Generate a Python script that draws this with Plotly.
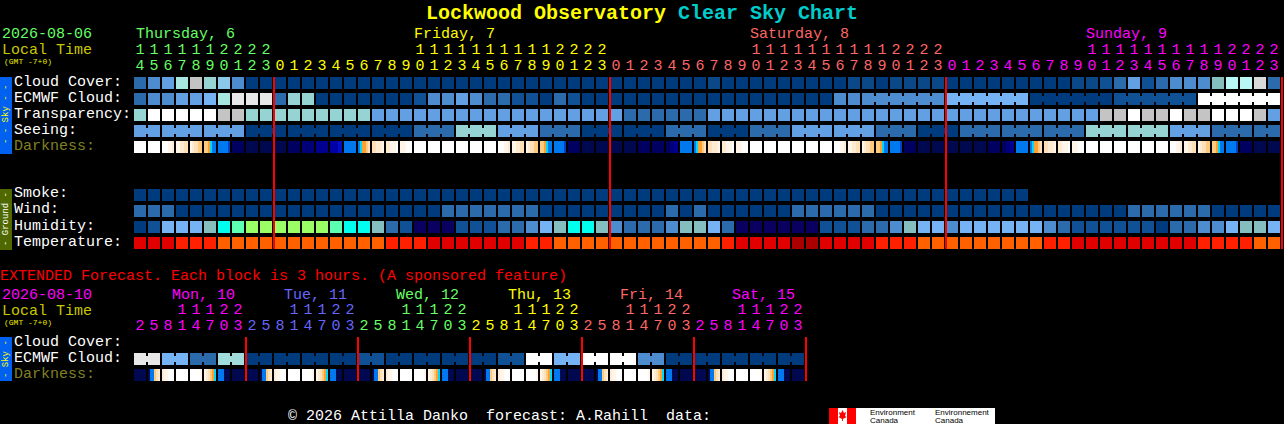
import plotly.graph_objects as go

W, H = 1284, 424

# colour levels used by the rows below (index = level)
palette = ["#003C7D", "#0F5194", "#2B6AAB", "#4E8CD0", "#62A0E3", "#75B3F4", "#84BEBE", "#96D4D4",
           "#B9F6F6", "#C4C4C4", "#E8E8E8", "#FFFFFF", "#00FFEE", "#5CFFB2", "#9AFF66", "#0A0060",
           "#E00000", "#FF2000", "#FF6000", "#AA0000", "#A8E6E0", "#A0DCDC", "#8CC8EA", "#0A4888",
           "#D8D8D8"]
dark_colors = {"W": "#FFFFFF", "a": "#FFF5E8", "b": "#FFEBD2", "c": "#FFE0B8", "d": "#FFCB80",
               "e": "#FFA030", "f": "#00D8FF", "g": "#0078F0", "h": "#0040C8", "0": "#000850",
               "1": "#000060", "2": "#000078", "3": "#000090", "4": "#0000A8", "5": "#0010C0"}
palette = palette + list(dark_colors.values())
dark_index = {k: 25 + i for i, k in enumerate(dark_colors)}

# ---- 82 hourly blocks, starting Thursday 14h
hours = [14, 15, 16, 17, 18, 19, 20, 21, 22, 23] + list(range(24)) * 3
cell_day = ["Thu"] * 10 + ["Fri"] * 24 + ["Sat"] * 24 + ["Sun"] * 24
day_color = {"Thu": "#66FF66", "Fri": "#FFFF00", "Sat": "#FF6666", "Sun": "#FF00FF"}
day_labels = ["Thursday, 6", "Friday, 7", "Saturday, 8", "Sunday, 9"]
day_label_cells = [0.15, 20, 44, 68]
day_label_keys = ["Thu", "Fri", "Sat", "Sun"]

cloud = [2, 3, 4, 20, 9, 7, 22, 3] + [0] * 33 + [23] + [0] * 9 + [23, 23, 0, 23, 23, 23, 23] + [0] * 9 + \
        [23, 23, 1, 2, 4, 1, 2, 3, 3, 3, 6, 8, 8, 24, 2]
ecmwf = [2, 3, 3, 4, 4, 5, 20, 10, 10, 10, 2, 7, 7] + [0] * 7 + [1, 3, 3, 4, 3, 2, 2, 1, 1, 0, 2, 1, 0, 0] + \
        [0] * 16 + [3, 3] + [3] * 6 + [5] * 6 + [0] * 6 + [1] * 6 + [11] * 6
transparency = [7, 11, 11, 11, 11, 11, 9, 9] + [7] * 9 + [4] * 18 + [2] * 6 + [4] * 28 + \
               [9, 9, 11, 9, 9, 11, 9, 9, 11, 11, 11, 9, 4]
seeing_groups = [2] + [3] * 26 + [2]
seeing = [4, 4, 4, 0, 0, 0, 0, 2, 7, 4, 2, 0, 0, 2, 0, 2, 4, 4, 2, 0, 2, 2, 2, 7, 7, 4, 2, 2]
ecmwf_merge_start = 52
ecmwf_merge_size = 6
smoke = [0] * 64 + [None] * 18
wind = [2, 2, 2] + [0] * 19 + [2] * 7 + [0] * 9 + [2, 0, 2] + [0] * 6 + [2] * 6 + [0] * 18 + [2] * 6 + [0] * 5
humidity = [0, 1, 5, 5, 5, 6, 12, 13, 14, 14, 14, 14, 14, 14, 13, 12, 12, 6, 2, 1, 15, 15, 15, 1, 1, 1, 2, 2, 3, 5,
            6, 12, 12, 6, 3, 2, 2, 2, 3, 6, 6, 5, 2, 15, 15, 15, 15, 15, 15, 1, 1, 1, 2, 2, 3, 6, 5, 5, 3, 5,
            5, 5, 5, 5, 5, 3, 2, 1, 1, 1, 1, 1, 1, 0, 2, 2, 3, 3, 5, 6, 6, 5]
temperature = [16, 16, 16, 17, 17, 17] + [18] * 12 + [17, 17, 17] + [16] * 7 + [17, 17] + [18] * 12 + [17] + \
              [16] * 4 + [19, 19] + [16] * 4 + [17, 17, 17] + [18] * 9 + [17, 17] + [16] * 9 + \
              [17, 17, 17, 17, 18, 18]

dark_kinds = {"day": "WWWWWW", "pm1": "WWWaab", "pm2": "aabbcc", "pm3": "abccdd", "dusk": "ddefgg",
              "bluE": "gggggh", "n0": "000000", "n1": "111111", "n2": "222222", "n3": "333333",
              "pre": "444455", "pre2": "112233", "bluM": "gggggg", "dawn": "gfeedc", "am1": "ccbbba",
              "am2": "bbaaaW", "am3": "aaaWWW",
              "x_dawn": "0ggdcb", "x_am": "baaWWW", "x_pm1": "WWWWWa", "x_pm2": "abcdef", "x_eve": "ggg000"}
darkness = ["day", "day", "pm1", "pm2", "pm3", "dusk", "bluE", "n1", "n0", "n0",
            "n0", "n1", "n2", "n3", "pre", "bluM", "dawn", "am1", "am2", "am3",
            "day", "day", "day", "day", "day", "day", "pm1", "pm2", "pm3", "dusk", "bluE", "n1", "n0", "n0",
            "n0", "n0", "n1", "n1", "pre2", "bluM", "dawn", "am1", "am2", "am3",
            "day", "day", "day", "day", "day", "day", "pm1", "pm2", "pm3", "dusk", "bluE", "n1", "n0", "n0",
            "n0", "n0", "n0", "n1", "pre2", "bluM", "dawn", "am1", "am2", "am3",
            "day", "day", "day", "day", "day", "day", "pm1", "pm2", "pm3", "dusk", "bluE", "n1", "n0", "n0"]

# ---- extended forecast, 48 blocks of 3 hours
ext_hours = [2, 5, 8, 11, 14, 17, 20, 23] * 6
ext_day_names = ["Mon, 10", "Tue, 11", "Wed, 12", "Thu, 13", "Fri, 14", "Sat, 15"]
ext_day_colors = ["#FF00FF", "#6666FF", "#66FF66", "#FFFF00", "#FF6666", "#FF00FF"]
ext_ecmwf = [10, 5, 2, 21, 0, 0, 0, 0, 1, 0, 0, 0, 0, 1, 11, 5, 11, 11, 3, 0, 0, 0, 0, 0]
ext_darkness = ["n0", "x_dawn", "x_am", "day", "x_pm1", "x_pm2", "x_eve", "n0"] * 6


def stepped_scale(colors):
    n = len(colors)
    scale = []
    for i, c in enumerate(colors):
        scale.append([i / n, c])
        scale.append([(i + 1) / n, c])
    return scale


def add_rows(fig, x, y, z, xgap=2):
    fig.add_trace(go.Heatmap(x=x, y=y, z=z, xgap=xgap, ygap=4, showscale=False, hoverinfo="skip",
                             colorscale=stepped_scale(palette), zmin=-0.5, zmax=len(palette) - 0.5))


def add_dark_row(fig, kinds, row):
    # 7 slices per block, the last one left empty as the gap
    xs, zs = [], []
    for i, kind in enumerate(kinds):
        for k in range(7):
            xs.append(i + (2 * k - 5) / 14)
            zs.append(dark_index[dark_kinds[kind][k]] if k < 6 else None)
    add_rows(fig, xs, [row], [zs], xgap=0)


def add_merges(fig, values, sizes, start, row):
    # merged blocks are joined by a short bar in the middle of the gap
    pos = start
    for size, level in zip(sizes, values):
        if size > 1:
            fig.add_trace(go.Scatter(x=[pos, pos + size - 1], y=[row, row], mode="lines", hoverinfo="skip",
                                     line=dict(color=palette[level], width=6)))
        pos += size


def add_digits(fig, xs, digits, colors, row):
    fig.add_trace(go.Scatter(x=xs, y=[row] * len(xs), text=digits, mode="text", hoverinfo="skip",
                             textposition="middle center", cliponaxis=False,
                             textfont=dict(family="Liberation Mono", size=15, color=colors)))


def py(p):
    return (p - 83) / 16


fig = go.Figure()

n = len(hours)
cells = list(range(n))
add_rows(fig, cells, [0, 1, 2, 3], [cloud, ecmwf, transparency, [None] * n])
# seeing row is only ever merged, same colour in each block of a group
seeing_cells = []
for size, level in zip(seeing_groups, seeing):
    seeing_cells += [level] * size
add_rows(fig, cells, [3], [seeing_cells])
add_merges(fig, seeing, seeing_groups, 0, 3)
add_merges(fig, ecmwf[ecmwf_merge_start::ecmwf_merge_size], [ecmwf_merge_size] * 5, ecmwf_merge_start, 1)
add_dark_row(fig, darkness, 4)
add_rows(fig, cells, [7, 8, 9, 10], [smoke, wind, humidity, temperature])

ext_cells = list(range(len(ext_hours)))
ext_row = [v for v in ext_ecmwf for _ in (0, 1)]
add_rows(fig, ext_cells, [py(359)], [ext_row])
add_merges(fig, ext_ecmwf, [2] * len(ext_ecmwf), 0, py(359))
add_dark_row(fig, ext_darkness, py(375))

# midnight lines
line_x, line_y = [], []
for i in cells + [n]:
    if i == n or hours[i] == 0:
        line_x += [i - 0.5 + 1 / 14, i - 0.5 + 1 / 14, None]
        line_y += [py(77), py(249), None]
for i in range(8, len(ext_hours) + 1, 8):
    line_x += [i - 0.5 + 1 / 14, i - 0.5 + 1 / 14, None]
    line_y += [py(337), py(381), None]
fig.add_trace(go.Scatter(x=line_x, y=line_y, mode="lines", hoverinfo="skip", line=dict(color="#FF0000", width=2)))

# hour digits
tens = [c for c in cells if hours[c] >= 10]
add_digits(fig, tens, [str(hours[c] // 10) for c in tens], [day_color[cell_day[c]] for c in tens], py(50.5))
add_digits(fig, cells, [str(h % 10) for h in hours], [day_color[d] for d in cell_day], py(66))
ext_colors = [ext_day_colors[c // 8] for c in ext_cells]
ext_tens = [c for c in ext_cells if ext_hours[c] >= 10]
add_digits(fig, ext_tens, [str(ext_hours[c] // 10) for c in ext_tens], [ext_colors[c] for c in ext_tens], py(310.5))
add_digits(fig, ext_cells, [str(h % 10) for h in ext_hours], ext_colors, py(326))

annotations = []


def label(text, x, y, color="#FFFFFF", size=15, anchor="left", bold=False, family="Liberation Mono", angle=0):
    annotations.append(dict(text="<b>%s</b>" % text if bold else text, x=x / W, y=1 - y / H, xref="paper", yref="paper",
                            xanchor=anchor, yanchor="middle", showarrow=False, textangle=angle,
                            borderpad=0, borderwidth=0, font=dict(family=family, size=size, color=color)))


label('Lockwood Observatory <span style="color:#00CCCC">Clear Sky Chart</span>', 641.5, 13, "#FFFF00", 20, "center", True)
label("2026-08-06", 2, 35, "#66FF66")
label("Local Time", 2, 50, "#C8C800")
label("(GMT -7+0)", 4, 61, "#E8E800", 8)
for name, cell, key in zip(day_labels, day_label_cells, day_label_keys):
    label(name, 134 + 14 * cell, 35, day_color[key])
for i, name in enumerate(ext_day_names):
    label(name, 172 + 112 * i, 295, ext_day_colors[i])

sky_names = ["Cloud Cover:", "ECMWF Cloud:", "Transparency:", "Seeing:"]
for i, name in enumerate(sky_names):
    label(name, 14, 82 + 16 * i)
label("Darkness:", 14, 146, "#808020")
ground_names = ["Smoke:", "Wind:", "Humidity:", "Temperature:"]
for i, name in enumerate(ground_names):
    label(name, 14, 194 + 16 * i)

label("EXTENDED Forecast. Each block is 3 hours. (A sponsored feature)", 0, 276, "#FF0000")
label("2026-08-10", 2, 295, "#FF00FF")
label("Local Time", 2, 311, "#C8C800")
label("(GMT -7+0)", 4, 322, "#E8E800", 8)
label("Cloud Cover:", 14, 342)
label("ECMWF Cloud:", 14, 358)
label("Darkness:", 14, 374, "#808020")
label("© 2026 Attilla Danko  forecast: A.Rahill  data:", 288, 416)

label("- - Sky - -", 6, 115, "#FFFF00", 9, "center", angle=-90)
label("- Ground -", 6, 219, "#FFFFFF", 9, "center", angle=-90)
label("- Sky -", 6, 359, "#FFFF00", 9, "center", angle=-90)
label("Environment", 870, 412, "#000000", 8, family="Liberation Sans")
label("Canada", 870, 420, "#000000", 8, family="Liberation Sans")
label("Environnement", 935, 412, "#000000", 8, family="Liberation Sans")
label("Canada", 935, 420, "#000000", 8, family="Liberation Sans")


def box(x0, y0, x1, y1, color):
    return dict(type="rect", xref="paper", yref="paper", x0=x0 / W, x1=x1 / W, y0=1 - y1 / H, y1=1 - y0 / H,
                fillcolor=color, line=dict(width=0), layer="below")


shapes = [box(0, 77, 12, 154, "#0060F0"), box(0, 189, 12, 250, "#506800"), box(0, 337, 12, 381, "#0060F0"),
          box(829, 408, 995, 424, "#FFFFFF"), box(829, 408, 838, 424, "#FF0000"), box(847, 408, 856, 424, "#FF0000")]
leaf = [(842.5, 410), (844, 413), (846, 412), (845, 416), (846.5, 417), (843, 419), (843, 421), (842, 421),
        (842, 419), (838.5, 417), (840, 416), (839, 412), (841, 413)]
shapes.append(dict(type="path", xref="paper", yref="paper", fillcolor="#FF0000", line=dict(width=0),
                   path="M " + " L ".join("%.4f %.4f" % (x / W, 1 - y / H) for x, y in leaf) + " Z"))

fig.update_layout(width=W, height=H, autosize=False, margin=dict(l=0, r=0, t=0, b=0, pad=0),
                  paper_bgcolor="#000000", plot_bgcolor="#000000", showlegend=False,
                  annotations=annotations, shapes=shapes,
                  xaxis=dict(range=[-10, (W - 140) / 14], visible=False, fixedrange=True),
                  yaxis=dict(range=[(H - 83) / 16, -83 / 16], visible=False, fixedrange=True))

fig.write_html("out.html", config=dict(displayModeBar=False),
               post_script="document.body.style.margin='0';document.body.style.background='#000';document.body.style.overflow='hidden';")
